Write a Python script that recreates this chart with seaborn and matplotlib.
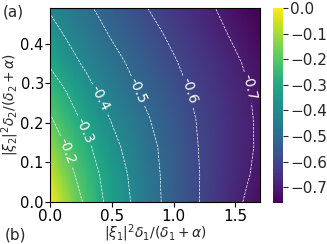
import numpy as np
import matplotlib
matplotlib.use("Agg")
import matplotlib.pyplot as plt
import seaborn as sns

# grid coordinates
x_vals = [0.0, 0.1, 0.2, 0.3, 0.4, 0.5, 0.6, 0.7, 0.8, 0.9, 1.0, 1.1, 1.2, 1.3, 1.4, 1.5, 1.6, 1.7]
y_vals = [0.0, 0.07, 0.14, 0.21, 0.28, 0.35, 0.42, 0.49]

# values, one row per y value
row_y000 = [0.0, -0.085, -0.160, -0.224, -0.283, -0.333, -0.378, -0.420, -0.460, -0.500, -0.533, -0.565, -0.597, -0.626, -0.654, -0.683, -0.711, -0.738]
row_y007 = [-0.062, -0.135, -0.200, -0.250, -0.300, -0.344, -0.389, -0.428, -0.466, -0.503, -0.534, -0.566, -0.597, -0.622, -0.646, -0.671, -0.695, -0.720]
row_y014 = [-0.126, -0.188, -0.237, -0.284, -0.328, -0.372, -0.411, -0.444, -0.477, -0.509, -0.539, -0.570, -0.600, -0.622, -0.644, -0.667, -0.689, -0.711]
row_y021 = [-0.190, -0.237, -0.284, -0.327, -0.367, -0.406, -0.436, -0.467, -0.497, -0.525, -0.552, -0.579, -0.605, -0.627, -0.648, -0.669, -0.690, -0.712]
row_y028 = [-0.251, -0.288, -0.329, -0.372, -0.409, -0.439, -0.468, -0.497, -0.522, -0.546, -0.571, -0.595, -0.616, -0.636, -0.656, -0.676, -0.696, -0.716]
row_y035 = [-0.309, -0.349, -0.386, -0.417, -0.444, -0.471, -0.497, -0.521, -0.545, -0.569, -0.592, -0.613, -0.632, -0.651, -0.671, -0.690, -0.709, -0.728]
row_y042 = [-0.360, -0.396, -0.425, -0.452, -0.480, -0.506, -0.528, -0.551, -0.573, -0.595, -0.615, -0.634, -0.653, -0.673, -0.692, -0.710, -0.728, -0.746]
row_y049 = [-0.410, -0.436, -0.462, -0.488, -0.512, -0.535, -0.557, -0.580, -0.602, -0.620, -0.638, -0.656, -0.675, -0.693, -0.711, -0.728, -0.745, -0.762]

contour_levels = [-0.7, -0.6, -0.5, -0.4, -0.3, -0.2]
cbar_ticks = [0.0, -0.1, -0.2, -0.3, -0.4, -0.5, -0.6, -0.7]

sns.set_style("ticks")
plt.rcParams['font.family'] = ['DejaVu Sans']
plt.rcParams['mathtext.fontset'] = 'dejavusans'

Z = np.array([row_y000, row_y007, row_y014, row_y021, row_y028, row_y035, row_y042, row_y049])
X, Y = np.meshgrid(np.array(x_vals), np.array(y_vals))

cmap = sns.color_palette("viridis", as_cmap=True)

FS = 11

fig = plt.figure(figsize=(3.27, 2.44), dpi=100)
ax = fig.add_axes([50/327, 1-202/244, 210/327, 194/244])
mesh = ax.pcolormesh(X, Y, Z, cmap=cmap, shading='gouraud', vmin=Z.min(), vmax=0.0, rasterized=True)
cs = ax.contour(X, Y, Z, levels=contour_levels, colors='white', linestyles='dashed', linewidths=0.5)
label_pos = [(0.15, 0.13), (0.27, 0.18), (0.40, 0.26), (0.71, 0.28), (1.12, 0.28), (1.62, 0.29)]
ax.clabel(cs, fmt='%.1f', fontsize=10, colors='white', manual=label_pos, inline=True, inline_spacing=3)

ax.set_xlim(0, 1.7)
ax.set_ylim(0, 0.49)
ax.set_xticks([0.0, 0.5, 1.0, 1.5])
ax.set_yticks([0.0, 0.1, 0.2, 0.3, 0.4])
ax.tick_params(labelsize=FS, length=3.5, width=0.8, colors='black', pad=1.5)
ax.tick_params(axis='y', labelsize=10.5, pad=1.0)
for s in ax.spines.values():
    s.set_color('black')
    s.set_linewidth(0.8)
ax.set_xlabel(r'$|\xi_1|^2\delta_1/(\delta_1+\alpha)$', fontsize=10)
ax.set_ylabel(r'$|\xi_2|^2\delta_2/(\delta_2+\alpha)$', fontsize=10)
ax.xaxis.set_label_coords(0.5, (202-222.5)/194)
ax.yaxis.set_label_coords((21-50)/210, 0.5)

cax = fig.add_axes([273/327, 1-203/244, 10/327, 195/244])
cb = fig.colorbar(mesh, cax=cax, ticks=cbar_ticks)
cb.ax.tick_params(labelsize=FS, length=3.5, width=0.8, pad=1.5)
cb.outline.set_visible(False)

fig.text(3/327, 1-12/244, '(a)', fontsize=FS, va='center', ha='left')
fig.text(5/327, 1-235/244, '(b)', fontsize=FS, va='center', ha='left')

fig.savefig('out.png', dpi=100)
